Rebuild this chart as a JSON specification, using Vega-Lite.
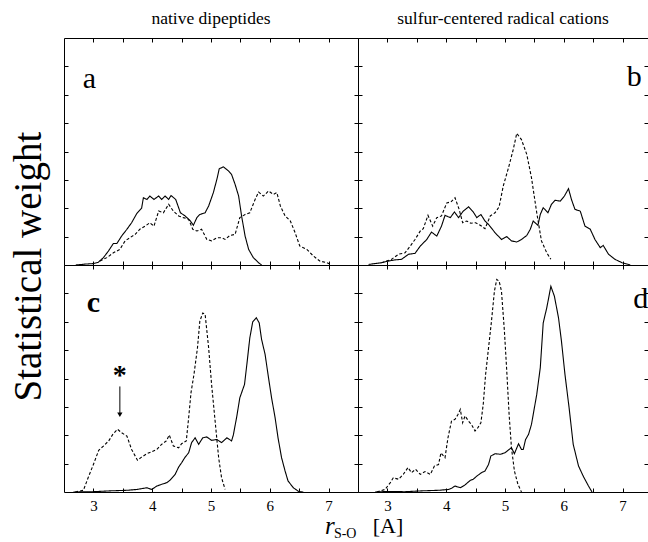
{
  "$schema": "https://vega.github.io/schema/vega-lite/v6.json",
  "padding": {"left": 9, "top": 10, "right": 0, "bottom": 0},
  "config": {
    "font": "Liberation Serif",
    "view": {"stroke": null},
    "axis": {"domainColor": "black", "tickColor": "black", "domainWidth": 1, "tickWidth": 1, "grid": false},
    "title": {"font": "Liberation Serif", "fontWeight": "normal", "color": "black"}
  },
  "datasets": {
    "curves": [
      {"p":"a","s":"solid","x":2.70,"y":0},{"p":"a","s":"solid","x":2.85,"y":0.03},{"p":"a","s":"solid","x":3.0,"y":0.05},{"p":"a","s":"solid","x":3.085,"y":0.1},{"p":"a","s":"solid","x":3.17,"y":0.26},{"p":"a","s":"solid","x":3.255,"y":0.49},{"p":"a","s":"solid","x":3.34,"y":0.76},{"p":"a","s":"solid","x":3.40,"y":0.76},{"p":"a","s":"solid","x":3.48,"y":1.02},{"p":"a","s":"solid","x":3.57,"y":1.26},{"p":"a","s":"solid","x":3.65,"y":1.49},{"p":"a","s":"solid","x":3.74,"y":1.82},{"p":"a","s":"solid","x":3.82,"y":2.0},{"p":"a","s":"solid","x":3.85,"y":2.37},{"p":"a","s":"solid","x":3.91,"y":2.31},{"p":"a","s":"solid","x":3.96,"y":2.43},{"p":"a","s":"solid","x":4.03,"y":2.31},{"p":"a","s":"solid","x":4.11,"y":2.43},{"p":"a","s":"solid","x":4.16,"y":2.31},{"p":"a","s":"solid","x":4.22,"y":2.43},{"p":"a","s":"solid","x":4.28,"y":2.31},{"p":"a","s":"solid","x":4.32,"y":2.45},{"p":"a","s":"solid","x":4.40,"y":2.31},{"p":"a","s":"solid","x":4.48,"y":1.84},{"p":"a","s":"solid","x":4.56,"y":1.73},{"p":"a","s":"solid","x":4.65,"y":1.55},{"p":"a","s":"solid","x":4.70,"y":1.40},{"p":"a","s":"solid","x":4.76,"y":1.67},{"p":"a","s":"solid","x":4.81,"y":1.78},{"p":"a","s":"solid","x":4.90,"y":1.84},{"p":"a","s":"solid","x":4.96,"y":2.08},{"p":"a","s":"solid","x":5.04,"y":2.55},{"p":"a","s":"solid","x":5.10,"y":3.02},{"p":"a","s":"solid","x":5.14,"y":3.39},{"p":"a","s":"solid","x":5.21,"y":3.46},{"p":"a","s":"solid","x":5.30,"y":3.31},{"p":"a","s":"solid","x":5.35,"y":3.19},{"p":"a","s":"solid","x":5.41,"y":2.84},{"p":"a","s":"solid","x":5.47,"y":2.43},{"p":"a","s":"solid","x":5.52,"y":1.73},{"p":"a","s":"solid","x":5.58,"y":1.02},{"p":"a","s":"solid","x":5.64,"y":0.55},{"p":"a","s":"solid","x":5.72,"y":0.26},{"p":"a","s":"solid","x":5.81,"y":0.08},{"p":"a","s":"solid","x":5.86,"y":0},
      {"p":"a","s":"dashed","x":3.11,"y":0.14},{"p":"a","s":"dashed","x":3.23,"y":0.26},{"p":"a","s":"dashed","x":3.34,"y":0.43},{"p":"a","s":"dashed","x":3.45,"y":0.55},{"p":"a","s":"dashed","x":3.54,"y":0.85},{"p":"a","s":"dashed","x":3.62,"y":0.96},{"p":"a","s":"dashed","x":3.71,"y":1.08},{"p":"a","s":"dashed","x":3.79,"y":1.26},{"p":"a","s":"dashed","x":3.88,"y":1.37},{"p":"a","s":"dashed","x":3.96,"y":1.49},{"p":"a","s":"dashed","x":4.03,"y":1.37},{"p":"a","s":"dashed","x":4.11,"y":1.90},{"p":"a","s":"dashed","x":4.19,"y":1.84},{"p":"a","s":"dashed","x":4.28,"y":2.14},{"p":"a","s":"dashed","x":4.36,"y":1.90},{"p":"a","s":"dashed","x":4.45,"y":1.73},{"p":"a","s":"dashed","x":4.53,"y":1.67},{"p":"a","s":"dashed","x":4.62,"y":1.61},{"p":"a","s":"dashed","x":4.69,"y":1.26},{"p":"a","s":"dashed","x":4.76,"y":1.20},{"p":"a","s":"dashed","x":4.84,"y":1.26},{"p":"a","s":"dashed","x":4.93,"y":0.90},{"p":"a","s":"dashed","x":5.01,"y":0.85},{"p":"a","s":"dashed","x":5.10,"y":0.96},{"p":"a","s":"dashed","x":5.18,"y":0.96},{"p":"a","s":"dashed","x":5.24,"y":0.90},{"p":"a","s":"dashed","x":5.32,"y":1.04},{"p":"a","s":"dashed","x":5.41,"y":1.08},{"p":"a","s":"dashed","x":5.49,"y":1.67},{"p":"a","s":"dashed","x":5.58,"y":1.78},{"p":"a","s":"dashed","x":5.66,"y":1.84},{"p":"a","s":"dashed","x":5.75,"y":2.31},{"p":"a","s":"dashed","x":5.81,"y":2.57},{"p":"a","s":"dashed","x":5.89,"y":2.43},{"p":"a","s":"dashed","x":5.98,"y":2.61},{"p":"a","s":"dashed","x":6.06,"y":2.49},{"p":"a","s":"dashed","x":6.12,"y":2.55},{"p":"a","s":"dashed","x":6.18,"y":2.08},{"p":"a","s":"dashed","x":6.26,"y":1.73},{"p":"a","s":"dashed","x":6.35,"y":1.55},{"p":"a","s":"dashed","x":6.43,"y":1.14},{"p":"a","s":"dashed","x":6.51,"y":0.67},{"p":"a","s":"dashed","x":6.63,"y":0.55},{"p":"a","s":"dashed","x":6.74,"y":0.32},{"p":"a","s":"dashed","x":6.85,"y":0.14},{"p":"a","s":"dashed","x":6.97,"y":0.08},{"p":"a","s":"dashed","x":7.05,"y":0},
      {"p":"b","s":"solid","x":2.68,"y":0.02},{"p":"b","s":"solid","x":2.90,"y":0.08},{"p":"b","s":"solid","x":3.02,"y":0.14},{"p":"b","s":"solid","x":3.13,"y":0.18},{"p":"b","s":"solid","x":3.24,"y":0.2},{"p":"b","s":"solid","x":3.36,"y":0.38},{"p":"b","s":"solid","x":3.47,"y":0.41},{"p":"b","s":"solid","x":3.56,"y":0.67},{"p":"b","s":"solid","x":3.67,"y":0.90},{"p":"b","s":"solid","x":3.75,"y":1.16},{"p":"b","s":"solid","x":3.84,"y":1.02},{"p":"b","s":"solid","x":3.92,"y":1.37},{"p":"b","s":"solid","x":3.98,"y":1.75},{"p":"b","s":"solid","x":4.07,"y":1.67},{"p":"b","s":"solid","x":4.14,"y":1.87},{"p":"b","s":"solid","x":4.21,"y":1.67},{"p":"b","s":"solid","x":4.29,"y":1.90},{"p":"b","s":"solid","x":4.38,"y":2.05},{"p":"b","s":"solid","x":4.46,"y":1.87},{"p":"b","s":"solid","x":4.52,"y":1.67},{"p":"b","s":"solid","x":4.59,"y":1.78},{"p":"b","s":"solid","x":4.66,"y":1.55},{"p":"b","s":"solid","x":4.72,"y":1.43},{"p":"b","s":"solid","x":4.83,"y":1.14},{"p":"b","s":"solid","x":4.94,"y":0.90},{"p":"b","s":"solid","x":5.03,"y":1.00},{"p":"b","s":"solid","x":5.11,"y":0.85},{"p":"b","s":"solid","x":5.20,"y":0.81},{"p":"b","s":"solid","x":5.28,"y":0.90},{"p":"b","s":"solid","x":5.37,"y":1.04},{"p":"b","s":"solid","x":5.43,"y":1.26},{"p":"b","s":"solid","x":5.48,"y":1.55},{"p":"b","s":"solid","x":5.56,"y":1.40},{"p":"b","s":"solid","x":5.60,"y":1.78},{"p":"b","s":"solid","x":5.65,"y":2.02},{"p":"b","s":"solid","x":5.73,"y":1.84},{"p":"b","s":"solid","x":5.79,"y":2.14},{"p":"b","s":"solid","x":5.85,"y":2.28},{"p":"b","s":"solid","x":5.94,"y":2.25},{"p":"b","s":"solid","x":6.01,"y":2.43},{"p":"b","s":"solid","x":6.08,"y":2.69},{"p":"b","s":"solid","x":6.13,"y":2.31},{"p":"b","s":"solid","x":6.19,"y":1.96},{"p":"b","s":"solid","x":6.28,"y":1.90},{"p":"b","s":"solid","x":6.36,"y":1.37},{"p":"b","s":"solid","x":6.45,"y":1.26},{"p":"b","s":"solid","x":6.53,"y":0.90},{"p":"b","s":"solid","x":6.62,"y":0.61},{"p":"b","s":"solid","x":6.67,"y":0.69},{"p":"b","s":"solid","x":6.76,"y":0.38},{"p":"b","s":"solid","x":6.87,"y":0.20},{"p":"b","s":"solid","x":6.99,"y":0.08},{"p":"b","s":"solid","x":7.13,"y":0},
      {"p":"b","s":"dashed","x":2.90,"y":0.08},{"p":"b","s":"dashed","x":3.07,"y":0.2},{"p":"b","s":"dashed","x":3.19,"y":0.38},{"p":"b","s":"dashed","x":3.30,"y":0.43},{"p":"b","s":"dashed","x":3.39,"y":0.67},{"p":"b","s":"dashed","x":3.47,"y":0.90},{"p":"b","s":"dashed","x":3.56,"y":1.20},{"p":"b","s":"dashed","x":3.61,"y":1.28},{"p":"b","s":"dashed","x":3.69,"y":1.75},{"p":"b","s":"dashed","x":3.77,"y":1.37},{"p":"b","s":"dashed","x":3.84,"y":1.67},{"p":"b","s":"dashed","x":3.92,"y":1.73},{"p":"b","s":"dashed","x":4.01,"y":2.19},{"p":"b","s":"dashed","x":4.08,"y":2.22},{"p":"b","s":"dashed","x":4.15,"y":2.37},{"p":"b","s":"dashed","x":4.22,"y":1.96},{"p":"b","s":"dashed","x":4.28,"y":1.49},{"p":"b","s":"dashed","x":4.35,"y":1.55},{"p":"b","s":"dashed","x":4.42,"y":1.47},{"p":"b","s":"dashed","x":4.50,"y":1.49},{"p":"b","s":"dashed","x":4.58,"y":1.40},{"p":"b","s":"dashed","x":4.66,"y":1.28},{"p":"b","s":"dashed","x":4.75,"y":1.73},{"p":"b","s":"dashed","x":4.83,"y":1.84},{"p":"b","s":"dashed","x":4.90,"y":2.05},{"p":"b","s":"dashed","x":4.97,"y":2.78},{"p":"b","s":"dashed","x":5.06,"y":3.43},{"p":"b","s":"dashed","x":5.14,"y":4.07},{"p":"b","s":"dashed","x":5.20,"y":4.64},{"p":"b","s":"dashed","x":5.28,"y":4.42},{"p":"b","s":"dashed","x":5.37,"y":3.90},{"p":"b","s":"dashed","x":5.45,"y":3.08},{"p":"b","s":"dashed","x":5.54,"y":1.84},{"p":"b","s":"dashed","x":5.62,"y":0.85},{"p":"b","s":"dashed","x":5.71,"y":0.43},{"p":"b","s":"dashed","x":5.78,"y":0.20},
      {"p":"c","s":"solid","x":2.66,"y":0},{"p":"c","s":"solid","x":3.0,"y":0.01},{"p":"c","s":"solid","x":3.28,"y":0.04},{"p":"c","s":"solid","x":3.57,"y":0.06},{"p":"c","s":"solid","x":3.74,"y":0.09},{"p":"c","s":"solid","x":3.91,"y":0.15},{"p":"c","s":"solid","x":3.99,"y":0.09},{"p":"c","s":"solid","x":4.08,"y":0.21},{"p":"c","s":"solid","x":4.16,"y":0.27},{"p":"c","s":"solid","x":4.25,"y":0.33},{"p":"c","s":"solid","x":4.30,"y":0.41},{"p":"c","s":"solid","x":4.39,"y":0.62},{"p":"c","s":"solid","x":4.45,"y":0.88},{"p":"c","s":"solid","x":4.50,"y":1.03},{"p":"c","s":"solid","x":4.56,"y":1.23},{"p":"c","s":"solid","x":4.62,"y":1.38},{"p":"c","s":"solid","x":4.67,"y":1.74},{"p":"c","s":"solid","x":4.73,"y":1.91},{"p":"c","s":"solid","x":4.79,"y":1.68},{"p":"c","s":"solid","x":4.86,"y":1.91},{"p":"c","s":"solid","x":4.93,"y":1.94},{"p":"c","s":"solid","x":5.01,"y":1.82},{"p":"c","s":"solid","x":5.10,"y":1.85},{"p":"c","s":"solid","x":5.18,"y":1.74},{"p":"c","s":"solid","x":5.27,"y":1.91},{"p":"c","s":"solid","x":5.35,"y":1.80},{"p":"c","s":"solid","x":5.38,"y":2.01},{"p":"c","s":"solid","x":5.44,"y":2.68},{"p":"c","s":"solid","x":5.49,"y":3.32},{"p":"c","s":"solid","x":5.57,"y":3.79},{"p":"c","s":"solid","x":5.61,"y":4.50},{"p":"c","s":"solid","x":5.66,"y":5.43},{"p":"c","s":"solid","x":5.71,"y":6.00},{"p":"c","s":"solid","x":5.77,"y":6.14},{"p":"c","s":"solid","x":5.82,"y":5.96},{"p":"c","s":"solid","x":5.86,"y":5.38},{"p":"c","s":"solid","x":5.92,"y":4.85},{"p":"c","s":"solid","x":5.97,"y":4.14},{"p":"c","s":"solid","x":6.03,"y":3.32},{"p":"c","s":"solid","x":6.09,"y":2.62},{"p":"c","s":"solid","x":6.14,"y":1.91},{"p":"c","s":"solid","x":6.20,"y":1.21},{"p":"c","s":"solid","x":6.26,"y":0.74},{"p":"c","s":"solid","x":6.31,"y":0.39},{"p":"c","s":"solid","x":6.40,"y":0.15},{"p":"c","s":"solid","x":6.49,"y":0.02},{"p":"c","s":"solid","x":6.57,"y":0},
      {"p":"c","s":"dashed","x":2.69,"y":0},{"p":"c","s":"dashed","x":2.83,"y":0.06},{"p":"c","s":"dashed","x":2.91,"y":0.50},{"p":"c","s":"dashed","x":3.0,"y":0.97},{"p":"c","s":"dashed","x":3.09,"y":1.47},{"p":"c","s":"dashed","x":3.17,"y":1.62},{"p":"c","s":"dashed","x":3.26,"y":1.80},{"p":"c","s":"dashed","x":3.33,"y":2.03},{"p":"c","s":"dashed","x":3.41,"y":2.21},{"p":"c","s":"dashed","x":3.48,"y":2.09},{"p":"c","s":"dashed","x":3.57,"y":1.97},{"p":"c","s":"dashed","x":3.65,"y":1.50},{"p":"c","s":"dashed","x":3.75,"y":1.12},{"p":"c","s":"dashed","x":3.82,"y":1.23},{"p":"c","s":"dashed","x":3.91,"y":1.35},{"p":"c","s":"dashed","x":3.99,"y":1.42},{"p":"c","s":"dashed","x":4.08,"y":1.50},{"p":"c","s":"dashed","x":4.16,"y":1.68},{"p":"c","s":"dashed","x":4.24,"y":1.80},{"p":"c","s":"dashed","x":4.29,"y":2.01},{"p":"c","s":"dashed","x":4.36,"y":1.62},{"p":"c","s":"dashed","x":4.45,"y":1.56},{"p":"c","s":"dashed","x":4.50,"y":1.70},{"p":"c","s":"dashed","x":4.58,"y":1.80},{"p":"c","s":"dashed","x":4.62,"y":2.62},{"p":"c","s":"dashed","x":4.66,"y":3.50},{"p":"c","s":"dashed","x":4.71,"y":4.14},{"p":"c","s":"dashed","x":4.77,"y":5.08},{"p":"c","s":"dashed","x":4.81,"y":6.02},{"p":"c","s":"dashed","x":4.86,"y":6.31},{"p":"c","s":"dashed","x":4.90,"y":6.26},{"p":"c","s":"dashed","x":4.96,"y":5.08},{"p":"c","s":"dashed","x":5.01,"y":3.79},{"p":"c","s":"dashed","x":5.07,"y":2.50},{"p":"c","s":"dashed","x":5.13,"y":1.21},{"p":"c","s":"dashed","x":5.18,"y":0.50},{"p":"c","s":"dashed","x":5.24,"y":0.09},
      {"p":"d","s":"solid","x":2.79,"y":0},{"p":"d","s":"solid","x":3.02,"y":0.02},{"p":"d","s":"solid","x":3.30,"y":0.01},{"p":"d","s":"solid","x":3.58,"y":0.04},{"p":"d","s":"solid","x":3.87,"y":0.06},{"p":"d","s":"solid","x":4.04,"y":0.09},{"p":"d","s":"solid","x":4.09,"y":0.13},{"p":"d","s":"solid","x":4.15,"y":0.21},{"p":"d","s":"solid","x":4.24,"y":0.15},{"p":"d","s":"solid","x":4.32,"y":0.25},{"p":"d","s":"solid","x":4.41,"y":0.41},{"p":"d","s":"solid","x":4.46,"y":0.45},{"p":"d","s":"solid","x":4.52,"y":0.56},{"p":"d","s":"solid","x":4.60,"y":0.68},{"p":"d","s":"solid","x":4.66,"y":0.74},{"p":"d","s":"solid","x":4.72,"y":0.97},{"p":"d","s":"solid","x":4.76,"y":1.27},{"p":"d","s":"solid","x":4.83,"y":1.35},{"p":"d","s":"solid","x":4.92,"y":1.33},{"p":"d","s":"solid","x":5.00,"y":1.38},{"p":"d","s":"solid","x":5.07,"y":1.50},{"p":"d","s":"solid","x":5.11,"y":1.56},{"p":"d","s":"solid","x":5.16,"y":1.35},{"p":"d","s":"solid","x":5.23,"y":1.70},{"p":"d","s":"solid","x":5.28,"y":1.50},{"p":"d","s":"solid","x":5.31,"y":1.50},{"p":"d","s":"solid","x":5.35,"y":1.85},{"p":"d","s":"solid","x":5.40,"y":2.03},{"p":"d","s":"solid","x":5.45,"y":2.38},{"p":"d","s":"solid","x":5.54,"y":3.44},{"p":"d","s":"solid","x":5.60,"y":4.38},{"p":"d","s":"solid","x":5.65,"y":5.96},{"p":"d","s":"solid","x":5.71,"y":6.49},{"p":"d","s":"solid","x":5.78,"y":7.25},{"p":"d","s":"solid","x":5.84,"y":6.90},{"p":"d","s":"solid","x":5.91,"y":6.14},{"p":"d","s":"solid","x":5.96,"y":5.32},{"p":"d","s":"solid","x":6.02,"y":4.14},{"p":"d","s":"solid","x":6.09,"y":2.97},{"p":"d","s":"solid","x":6.16,"y":1.68},{"p":"d","s":"solid","x":6.25,"y":0.92},{"p":"d","s":"solid","x":6.33,"y":0.56},{"p":"d","s":"solid","x":6.42,"y":0.21},{"p":"d","s":"solid","x":6.48,"y":0},
      {"p":"d","s":"dashed","x":2.82,"y":0},{"p":"d","s":"dashed","x":2.96,"y":0.09},{"p":"d","s":"dashed","x":3.05,"y":0.33},{"p":"d","s":"dashed","x":3.10,"y":0.50},{"p":"d","s":"dashed","x":3.19,"y":0.45},{"p":"d","s":"dashed","x":3.27,"y":0.62},{"p":"d","s":"dashed","x":3.35,"y":0.86},{"p":"d","s":"dashed","x":3.41,"y":0.68},{"p":"d","s":"dashed","x":3.48,"y":0.80},{"p":"d","s":"dashed","x":3.56,"y":0.62},{"p":"d","s":"dashed","x":3.64,"y":0.72},{"p":"d","s":"dashed","x":3.73,"y":0.62},{"p":"d","s":"dashed","x":3.80,"y":0.92},{"p":"d","s":"dashed","x":3.87,"y":0.97},{"p":"d","s":"dashed","x":3.91,"y":1.38},{"p":"d","s":"dashed","x":3.98,"y":1.21},{"p":"d","s":"dashed","x":4.03,"y":1.91},{"p":"d","s":"dashed","x":4.09,"y":2.50},{"p":"d","s":"dashed","x":4.15,"y":2.56},{"p":"d","s":"dashed","x":4.20,"y":2.73},{"p":"d","s":"dashed","x":4.24,"y":2.91},{"p":"d","s":"dashed","x":4.28,"y":2.44},{"p":"d","s":"dashed","x":4.32,"y":2.68},{"p":"d","s":"dashed","x":4.38,"y":2.50},{"p":"d","s":"dashed","x":4.43,"y":2.38},{"p":"d","s":"dashed","x":4.49,"y":2.15},{"p":"d","s":"dashed","x":4.54,"y":2.27},{"p":"d","s":"dashed","x":4.59,"y":2.44},{"p":"d","s":"dashed","x":4.63,"y":3.09},{"p":"d","s":"dashed","x":4.67,"y":4.14},{"p":"d","s":"dashed","x":4.72,"y":5.08},{"p":"d","s":"dashed","x":4.77,"y":6.02},{"p":"d","s":"dashed","x":4.82,"y":7.08},{"p":"d","s":"dashed","x":4.86,"y":7.49},{"p":"d","s":"dashed","x":4.90,"y":7.43},{"p":"d","s":"dashed","x":4.94,"y":7.08},{"p":"d","s":"dashed","x":4.99,"y":5.67},{"p":"d","s":"dashed","x":5.03,"y":4.26},{"p":"d","s":"dashed","x":5.07,"y":2.73},{"p":"d","s":"dashed","x":5.11,"y":1.56},{"p":"d","s":"dashed","x":5.16,"y":0.74},{"p":"d","s":"dashed","x":5.22,"y":0.27},{"p":"d","s":"dashed","x":5.28,"y":0}
    ],
    "labels": [
      {"p":"a","t":"a","x":2.93,"y":6.25},
      {"p":"b","t":"b","x":7.2,"y":6.3},
      {"p":"c","t":"c","x":3.0,"y":6.36},
      {"p":"d","t":"d","x":7.31,"y":6.5},
      {"p":"c","t":"*","x":3.45,"y":3.79}
    ],
    "arrow": [{"x":3.45,"y":3.72,"y2":2.72}],
    "xtitle": [
      {"t":"r","x":7.02,"y":-1.49},
      {"t":"S-O","x":7.09,"y":-1.63},
      {"t":"[A]","x":8.01,"y":-1.45}
    ]
  },
  "title": {"text": "Statistical weight", "orient": "left", "anchor": "middle", "font": "Liberation Serif", "fontWeight": "normal", "color": "black", "fontSize": 39, "offset": 15, "dx": 9},
  "columns": 2,
  "spacing": 0,
  "bounds": "flush",
  "resolve": {"scale": {"x": "independent", "y": "independent", "strokeDash": "independent"}},
  "concat": [
    {
      "width": 294, "height": 227,
      "title": {"text": "native dipeptides", "font": "Liberation Serif", "fontWeight": "normal", "color": "black", "fontSize": 17.5, "offset": 10, "anchor": "middle"},
      "layer": [
        {
          "data": {"name": "curves"},
          "transform": [{"filter": "datum.p === 'a'"}],
          "mark": {"type": "line", "color": "black", "strokeWidth": 1.1},
          "encoding": {
            "x": {"field": "x", "type": "quantitative", "title": null, "scale": {"domain": [2.5, 7.5], "nice": false, "zero": false}, "axis": {"orient": "bottom", "values": [3,3.5,4,4.5,5,5.5,6,6.5,7], "tickSize": -4, "labels": false}},
            "y": {"field": "y", "type": "quantitative", "title": null, "scale": {"domain": [0, 8], "nice": false}, "axis": {"orient": "left", "values": [1,2,3,4,5,6,7], "tickSize": -4, "labels": false}},
            "strokeDash": {"field": "s", "type": "nominal", "scale": {"domain": ["solid","dashed"], "range": [[1,0],[3,2]]}, "legend": null}
          }
        },
        {
          "data": {"name": "labels"},
          "transform": [{"filter": "datum.p === 'a'"}],
          "mark": {"type": "text", "font": "Liberation Serif", "fontSize": 30, "align": "center", "baseline": "alphabetic", "color": "black"},
          "encoding": {
            "x": {"field": "x", "type": "quantitative", "title": null, "axis": {"orient": "top", "values": [3,3.5,4,4.5,5,5.5,6,6.5,7], "tickSize": -4, "labels": false}},
            "y": {"field": "y", "type": "quantitative", "title": null, "axis": {"orient": "right", "values": [1,2,3,4,5,6,7], "tickSize": -4, "labels": false}},
            "text": {"field": "t"}
          }
        }
      ],
      "resolve": {"axis": {"x": "independent", "y": "independent"}}
    },
    {
      "width": 290, "height": 227,
      "title": {"text": "sulfur-centered radical cations", "font": "Liberation Serif", "fontWeight": "normal", "color": "black", "fontSize": 17.5, "offset": 10, "anchor": "middle"},
      "layer": [
        {
          "data": {"name": "curves"},
          "transform": [{"filter": "datum.p === 'b'"}],
          "mark": {"type": "line", "color": "black", "strokeWidth": 1.1},
          "encoding": {
            "x": {"field": "x", "type": "quantitative", "title": null, "scale": {"domain": [2.5, 7.432], "nice": false, "zero": false}, "axis": {"orient": "bottom", "values": [3,3.5,4,4.5,5,5.5,6,6.5,7], "tickSize": -4, "labels": false}},
            "y": {"field": "y", "type": "quantitative", "title": null, "scale": {"domain": [0, 8], "nice": false}, "axis": {"orient": "left", "values": [1,2,3,4,5,6,7], "tickSize": -4, "labels": false}},
            "strokeDash": {"field": "s", "type": "nominal", "scale": {"domain": ["solid","dashed"], "range": [[1,0],[3,2]]}, "legend": null}
          }
        },
        {
          "data": {"name": "labels"},
          "transform": [{"filter": "datum.p === 'b'"}],
          "mark": {"type": "text", "font": "Liberation Serif", "fontSize": 30, "align": "center", "baseline": "alphabetic", "color": "black"},
          "encoding": {
            "x": {"field": "x", "type": "quantitative", "title": null, "axis": {"orient": "top", "values": [3,3.5,4,4.5,5,5.5,6,6.5,7], "tickSize": -4, "labels": false}},
            "y": {"field": "y", "type": "quantitative", "title": null, "axis": {"orient": "right", "values": [1,2,3,4,5,6,7], "tickSize": -4, "labels": false, "domain": false}},
            "text": {"field": "t"}
          }
        }
      ],
      "resolve": {"axis": {"x": "independent", "y": "independent"}}
    },
    {
      "width": 294, "height": 227,
      "layer": [
        {
          "data": {"name": "curves"},
          "transform": [{"filter": "datum.p === 'c'"}],
          "mark": {"type": "line", "color": "black", "strokeWidth": 1.1},
          "encoding": {
            "x": {"field": "x", "type": "quantitative", "title": null, "scale": {"domain": [2.5, 7.5], "nice": false, "zero": false}, "axis": {"orient": "bottom", "values": [3,3.5,4,4.5,5,5.5,6,6.5,7], "tickSize": -4, "labelExpr": "datum.value % 1 ? '' : format(datum.value, 'd')", "labelFont": "Liberation Serif", "labelFontSize": 15, "labelColor": "black", "labelPadding": 10, "labelFlush": false}},
            "y": {"field": "y", "type": "quantitative", "title": null, "scale": {"domain": [0, 8], "nice": false}, "axis": {"orient": "left", "values": [1,2,3,4,5,6,7], "tickSize": -4, "labels": false}},
            "strokeDash": {"field": "s", "type": "nominal", "scale": {"domain": ["solid","dashed"], "range": [[1,0],[3,2]]}, "legend": null}
          }
        },
        {
          "data": {"name": "labels"},
          "transform": [{"filter": "datum.t === 'c'"}],
          "mark": {"type": "text", "font": "Liberation Serif", "fontSize": 30, "fontWeight": "bold", "align": "center", "baseline": "alphabetic", "color": "black"},
          "encoding": {
            "x": {"field": "x", "type": "quantitative", "title": null, "axis": {"orient": "top", "values": [3,3.5,4,4.5,5,5.5,6,6.5,7], "tickSize": -4, "labels": false}},
            "y": {"field": "y", "type": "quantitative", "title": null, "axis": {"orient": "right", "values": [1,2,3,4,5,6,7], "tickSize": -4, "labels": false}},
            "text": {"field": "t"}
          }
        },
        {
          "data": {"name": "labels"},
          "transform": [{"filter": "datum.t === '*'"}],
          "mark": {"type": "text", "font": "Liberation Serif", "fontSize": 28, "fontWeight": "bold", "align": "center", "baseline": "alphabetic", "color": "black"},
          "encoding": {
            "x": {"field": "x", "type": "quantitative", "axis": null},
            "y": {"field": "y", "type": "quantitative", "axis": null},
            "text": {"field": "t"}
          }
        },
        {
          "data": {"name": "arrow"},
          "mark": {"type": "rule", "color": "black", "strokeWidth": 1},
          "encoding": {
            "x": {"field": "x", "type": "quantitative", "axis": null},
            "y": {"field": "y", "type": "quantitative", "axis": null},
            "y2": {"field": "y2"}
          }
        },
        {
          "data": {"name": "arrow"},
          "mark": {"type": "point", "shape": "triangle-down", "filled": true, "color": "black", "size": 28, "opacity": 1},
          "encoding": {
            "x": {"field": "x", "type": "quantitative", "axis": null},
            "y": {"field": "y2", "type": "quantitative", "axis": null}
          }
        },
        {
          "data": {"name": "xtitle"},
          "transform": [{"filter": "datum.t === 'r'"}],
          "mark": {"type": "text", "font": "Liberation Serif", "fontSize": 25, "fontStyle": "italic", "align": "center", "baseline": "alphabetic", "color": "black"},
          "encoding": {
            "x": {"field": "x", "type": "quantitative", "axis": null},
            "y": {"field": "y", "type": "quantitative", "axis": null},
            "text": {"field": "t"}
          }
        },
        {
          "data": {"name": "xtitle"},
          "transform": [{"filter": "datum.t === 'S-O'"}],
          "mark": {"type": "text", "font": "Liberation Serif", "fontSize": 14, "align": "left", "baseline": "alphabetic", "color": "black"},
          "encoding": {
            "x": {"field": "x", "type": "quantitative", "axis": null},
            "y": {"field": "y", "type": "quantitative", "axis": null},
            "text": {"field": "t"}
          }
        },
        {
          "data": {"name": "xtitle"},
          "transform": [{"filter": "datum.t === '[A]'"}],
          "mark": {"type": "text", "font": "Liberation Serif", "fontSize": 22, "align": "center", "baseline": "alphabetic", "color": "black"},
          "encoding": {
            "x": {"field": "x", "type": "quantitative", "axis": null},
            "y": {"field": "y", "type": "quantitative", "axis": null},
            "text": {"field": "t"}
          }
        }
      ],
      "resolve": {"axis": {"x": "independent", "y": "independent"}}
    },
    {
      "width": 290, "height": 227,
      "layer": [
        {
          "data": {"name": "curves"},
          "transform": [{"filter": "datum.p === 'd'"}],
          "mark": {"type": "line", "color": "black", "strokeWidth": 1.1},
          "encoding": {
            "x": {"field": "x", "type": "quantitative", "title": null, "scale": {"domain": [2.5, 7.432], "nice": false, "zero": false}, "axis": {"orient": "bottom", "values": [3,3.5,4,4.5,5,5.5,6,6.5,7], "tickSize": -4, "labelExpr": "datum.value % 1 ? '' : format(datum.value, 'd')", "labelFont": "Liberation Serif", "labelFontSize": 15, "labelColor": "black", "labelPadding": 10, "labelFlush": false}},
            "y": {"field": "y", "type": "quantitative", "title": null, "scale": {"domain": [0, 8], "nice": false}, "axis": {"orient": "left", "values": [1,2,3,4,5,6,7], "tickSize": -4, "labels": false}},
            "strokeDash": {"field": "s", "type": "nominal", "scale": {"domain": ["solid","dashed"], "range": [[1,0],[3,2]]}, "legend": null}
          }
        },
        {
          "data": {"name": "labels"},
          "transform": [{"filter": "datum.p === 'd'"}],
          "mark": {"type": "text", "font": "Liberation Serif", "fontSize": 30, "align": "center", "baseline": "alphabetic", "color": "black"},
          "encoding": {
            "x": {"field": "x", "type": "quantitative", "title": null, "axis": {"orient": "top", "values": [3,3.5,4,4.5,5,5.5,6,6.5,7], "tickSize": -4, "labels": false}},
            "y": {"field": "y", "type": "quantitative", "title": null, "axis": {"orient": "right", "values": [1,2,3,4,5,6,7], "tickSize": -4, "labels": false, "domain": false}},
            "text": {"field": "t"}
          }
        }
      ],
      "resolve": {"axis": {"x": "independent", "y": "independent"}}
    }
  ]
}
